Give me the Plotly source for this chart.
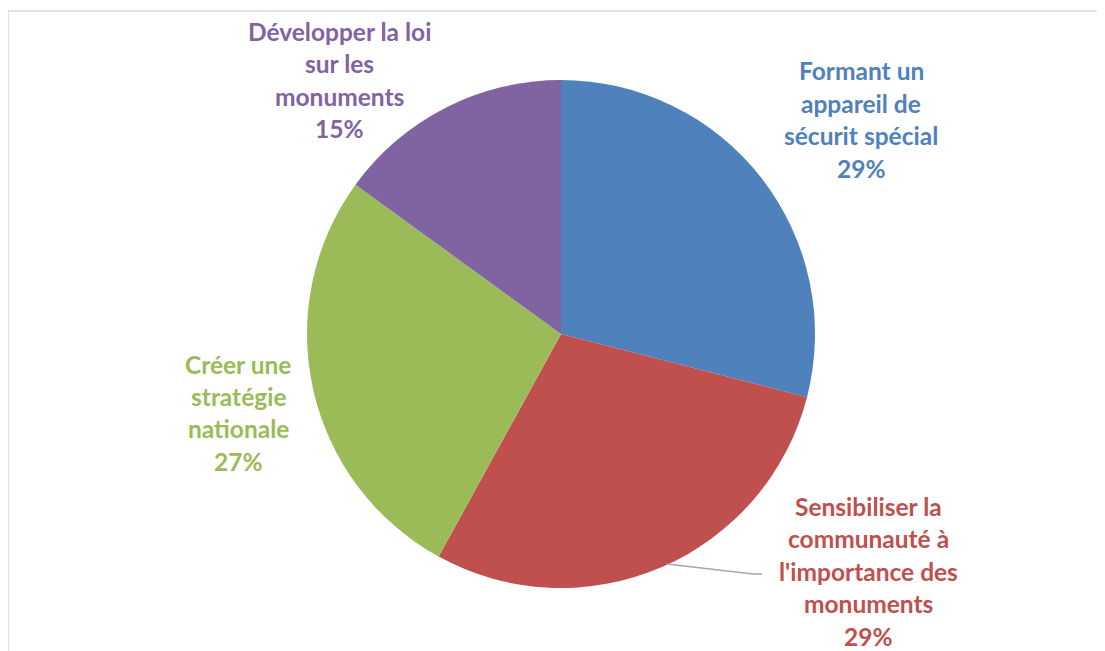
import plotly.graph_objects as go

# page has an 8px body margin; the figure sits at (8, 8) in the window
OFF = 8
W, H = 1105 - OFF, 651 - OFF

labels = ["Formant un appareil de sécurit spécial",
          "Sensibiliser la communauté à l'importance des monuments",
          "Créer une stratégie nationale",
          "Développer la loi sur les monuments"]
values = [29, 29, 27, 15]
colors = ["#4F81BD", "#C0504D", "#9BBB59", "#8064A2"]

# label text as displayed (wrapped lines) and label centres (window pixels)
label_lines = [
    ["Formant un", "appareil de", "sécurit spécial", "29%"],
    ["Sensibiliser la", "communauté à", "l'importance des", "monuments", "29%"],
    ["Créer une", "stratégie", "nationale", "27%"],
    ["Développer la loi", "sur les", "monuments", "15%"],
]
label_pos = [(861, 71), (868, 506), (238, 364), (340, 31)]
LINE_H = 32.5

cx, cy, r = 561, 334, 254

def px(x):
    return (x - OFF) / W

def py(y):
    return 1 - (y - OFF) / H

fig = go.Figure(go.Pie(
    labels=labels, values=values, sort=False, direction="clockwise",
    rotation=0, textinfo="none", hoverinfo="label+percent",
    marker=dict(colors=colors, line=dict(width=0)),
    domain=dict(x=[px(cx - r), px(cx + r)], y=[py(cy + r), py(cy - r)]),
    showlegend=False,
))

annotations = []
for lines, (x0, y0), col in zip(label_lines, label_pos, colors):
    for i, t in enumerate(lines):
        annotations.append(dict(
            x=px(x0), y=py(y0 + i * LINE_H), xref="paper", yref="paper",
            text="<b>%s</b>" % t, showarrow=False, xanchor="center", yanchor="middle",
            font=dict(family="Lato", size=24.5, color=col)))

shapes = [
    dict(type="rect", xref="paper", yref="paper", x0=px(8), x1=px(1105 + 10),
         y0=py(651 + 10), y1=py(11), line=dict(color="#D9D9D9", width=1.5)),
    dict(type="path", xref="paper", yref="paper",
         path="M %f %f L %f %f L %f %f" % (px(667), py(564), px(753), py(574), px(762), py(574)),
         line=dict(color="#A6A6A6", width=1.5)),
]

fig.update_layout(
    width=W, height=H, margin=dict(l=0, r=0, t=0, b=0),
    paper_bgcolor="white", plot_bgcolor="white",
    annotations=annotations, shapes=shapes,
)

fig.write_html("out.html")
